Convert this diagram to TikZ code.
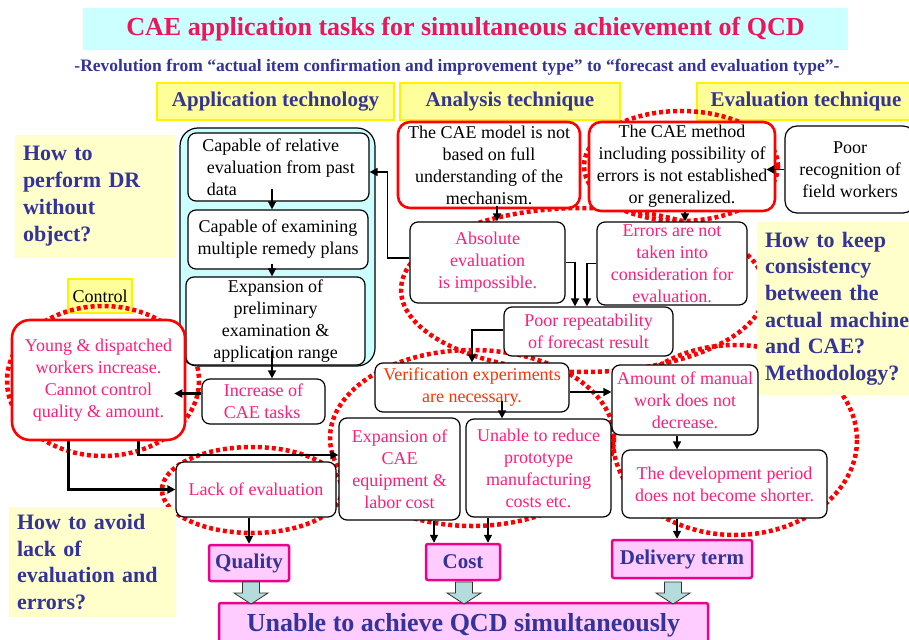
\documentclass[tikz,border=0pt]{standalone}
\usepackage{fontspec}
\setmainfont{Liberation Serif}
\usetikzlibrary{arrows.meta}

\definecolor{titlepink}{HTML}{F0145A}
\definecolor{boxpink}{HTML}{FF1E78}
\definecolor{verifyred}{HTML}{FF3300}
\definecolor{navy}{HTML}{333399}
\definecolor{titlecyan}{HTML}{CCFFFF}
\definecolor{appcyan}{HTML}{CCFFFF}
\definecolor{headyellow}{HTML}{FFFF99}
\definecolor{noteyellow}{HTML}{FFFFCC}
\definecolor{qcdpink}{HTML}{FFCCFF}
\definecolor{arrowteal}{HTML}{B4DCDC}

\newcommand\cellfont{\fontsize{18}{22}\selectfont}
\newcommand\notefont{\fontsize{22}{27}\selectfont\bfseries}

\tikzset{
  plain_box/.style={draw=black, line width=1.2pt, rounded corners=8pt, fill=white,
    align=center, inner xsep=3pt, inner ysep=0pt, font=\cellfont, text=boxpink},
  red_box/.style={plain_box, draw=red, line width=2.6pt, rounded corners=12pt},
  head_box/.style={fill=headyellow, draw=yellow, line width=2pt, text=navy,
    font=\fontsize{21}{25}\selectfont\bfseries, inner sep=0pt},
  note_box/.style={fill=noteyellow, text=navy, font=\notefont, align=left,
    inner xsep=8pt, inner ysep=0pt},
  qcd_box/.style={fill=qcdpink, draw=magenta, line width=2.5pt, rounded corners=2pt,
    text=navy, font=\fontsize{21}{25}\selectfont\bfseries, inner sep=0pt},
  red_ring/.style={draw=red, line width=4.5pt, dash pattern=on 4pt off 3pt},
}

\begin{document}
\begin{tikzpicture}[
  x=1pt, y=-1pt,
  flow/.style={-{Triangle[length=8pt,width=8pt]}, line width=1.5pt},
  flow thick/.style={flow, line width=2.5pt},
  block arrow/.style={fill=arrowteal, draw=black!80, line width=0.8pt},
  ]

  \useasboundingbox (0,0) rectangle (909,639);

  \node[fill=titlecyan, minimum width=765pt, minimum height=42pt, inner sep=0pt,
    text=titlepink, font=\fontsize{26}{30}\selectfont\bfseries]
    (title) at (465.5,29) {CAE application tasks for simultaneous achievement of QCD};
  \node[text=navy, font=\fontsize{17.5}{20}\selectfont\bfseries] (subtitle) at (457,67)
    {-Revolution from “actual item confirmation and improvement type” to “forecast and evaluation type”-};

  \node[head_box, minimum width=237pt, minimum height=37pt] (head_app) at (275.5,101.5) {Application technology};
  \node[head_box, minimum width=220pt, minimum height=37pt] (head_ana) at (510,101.5) {Analysis technique};
  \node[head_box, minimum width=218pt, minimum height=37pt] (head_eva) at (806,101.5) {Evaluation technique};
  \node[head_box, font=\cellfont, text=black, minimum width=64pt, minimum height=34pt] (control) at (100,296) {Control};

  % dotted rings behind the boxes
  \foreach \cx/\cy/\rx/\ry in {103/381/96/75, 252/490/90/43, 472/438/142/88,
                               735/440/122/95, 583/290/182/82, 681/166/97/55}{
    \draw[red_ring] (\cx,\cy) ellipse [x radius=\rx, y radius=\ry];
  }

  \node[note_box, text width=144pt, minimum height=123pt] (note_dr) at (95,196.5)
    {How to\\ perform DR\\ without\\ object?};
  \node[note_box, text width=151pt, minimum height=110pt, font=\fontsize{22}{26.7}\selectfont\bfseries]
    (note_avoid) at (92.5,562) {How to avoid\\ lack of\\ evaluation and\\ errors?};
  \node[note_box, text width=170pt, minimum height=173pt, font=\fontsize{22}{26.6}\selectfont\bfseries]
    (note_keep) at (850,308.5) {How to keep\\ consistency\\ between the\\ actual machine\\ and CAE?\\ Methodology?};

  % application technology column
  \node[plain_box, fill=appcyan, rounded corners=18pt, minimum width=195pt, minimum height=238pt]
    (app_frame) at (277.5,247) {};
  \node[plain_box, text=black, align=left, minimum width=181pt, minimum height=68pt] (app_past) at (278.5,167)
    {Capable of relative\\ \ evaluation from past\\ \ data};
  \node[plain_box, text=black, minimum width=180pt, minimum height=59pt] (app_plans) at (278,239.5)
    {Capable of examining\\ multiple remedy plans};
  \node[plain_box, text=black, minimum width=179pt, minimum height=88pt] (app_range) at (275.5,321)
    {Expansion of\\ preliminary\\ examination \&\\ application range};
  \node[plain_box, align=left, minimum width=123pt, minimum height=45pt] (cae_tasks) at (263.5,401.5)
    {Increase of\\ CAE tasks};

  \node[red_box, rounded corners=18pt, minimum width=173pt, minimum height=120pt] (young) at (98.5,380)
    {Young \& dispatched\\ workers increase.\\ Cannot control\\ quality \& amount.};
  \node[plain_box, minimum width=160pt, minimum height=55pt] (lack) at (256,489.5) {Lack of evaluation};

  % analysis and evaluation technique
  \node[red_box, text=black, minimum width=182pt, minimum height=86pt] (cae_model) at (489,165)
    {The CAE model is not\\ based on full\\ understanding of the\\ mechanism.};
  \node[red_box, text=black, minimum width=186pt, minimum height=89pt] (cae_method) at (682,166.5)
    {The CAE method\\ including possibility of\\ errors is not established\\ or generalized.};
  \node[plain_box, text=black, rounded corners=12pt, minimum width=130pt, minimum height=87pt] (field) at (850,169.5)
    {Poor\\ recognition of\\ field workers};

  \node[plain_box, minimum width=155pt, minimum height=81pt] (absolute) at (487.5,262.5)
    {Absolute\\ evaluation\\ is impossible.};
  \node[plain_box, minimum width=150pt, minimum height=83pt] (errors) at (672,263.5)
    {Errors are not\\ taken into\\ consideration for\\ evaluation.};
  \node[plain_box, minimum width=169pt, minimum height=49pt] (repeat) at (588.5,331.5)
    {Poor repeatability\\ of forecast result};
  \node[plain_box, text=verifyred, minimum width=194pt, minimum height=49pt] (verify) at (472,387.5)
    {Verification experiments\\ are necessary.};
  \node[plain_box, minimum width=146pt, minimum height=70pt] (amount) at (685,400)
    {Amount of manual\\ work does not\\ decrease.};
  \node[plain_box, minimum width=121pt, minimum height=102pt] (expansion) at (399.5,469)
    {Expansion of\\ CAE\\ equipment \&\\ labor cost};
  \node[plain_box, minimum width=145pt, minimum height=98pt] (unable) at (538.5,468)
    {Unable to reduce\\ prototype\\ manufacturing\\ costs etc.};
  \node[plain_box, minimum width=205pt, minimum height=68pt] (period) at (724.5,484)
    {The development period\\ does not become shorter.};

  % Q, C and D
  \node[qcd_box, minimum width=80pt, minimum height=36pt] (quality) at (249,563) {Quality};
  \node[qcd_box, minimum width=74pt, minimum height=36pt] (cost) at (463,562) {Cost};
  \node[qcd_box, minimum width=140pt, minimum height=38pt] (delivery) at (682,559) {Delivery term};
  \node[qcd_box, minimum width=489pt, minimum height=44pt, font=\fontsize{26}{30}\selectfont\bfseries]
    (qcd_all) at (463.5,625) {Unable to achieve QCD simultaneously};

  % connectors
  \coordinate (app_axis) at (272,0);
  \draw[flow] (app_past.south -| app_axis) ++(0,-13) -- (app_plans.north -| app_axis);
  \draw[flow] (app_plans.south -| app_axis) ++(0,-6) -- (app_range.north -| app_axis);
  \draw[flow] (app_range.south -| app_axis) ++(0,-15) -- (cae_tasks.north -| app_axis);
  \draw[flow thick] ([yshift=8pt]cae_tasks.west) -- ([yshift=8pt,xshift=-12pt]cae_tasks.west -| young.east);
  \draw[flow thick] ([xshift=-30pt]young.south) |- (lack.west);
  \draw[flow thick] ([xshift=40pt]young.south) |- ([yshift=14pt]expansion.west);
  \draw[flow] (lack.south -| quality.north) -- (quality.north);

  \draw[flow] ([xshift=8pt]cae_model.south) ++(0,-3) -- ([xshift=8pt]cae_model.south |- absolute.north);
  \draw[flow] ([xshift=3pt]cae_method.south) -- ([xshift=3pt]cae_method.south |- errors.north);
  \draw[flow] (field.west) -- ([xshift=-10pt]field.west -| cae_method.east);
  \draw[flow] (absolute.east) -| ([xshift=-13.5pt]repeat.north);
  \draw[flow] (errors.west) -| ([xshift=-1.5pt]repeat.north);
  \draw[flow] ([yshift=4.5pt]absolute.west) -- ++(-22,0) |- ([yshift=-5pt]app_past.east);
  \draw[flow] ([yshift=1.5pt]repeat.west) -| (verify.north);
  \draw[flow] ([yshift=-4.5pt]verify.east) -- ([yshift=-4.5pt]verify.east -| amount.west);
  \draw[flow] ([xshift=30pt]verify.south) ++(0,-12) -- ([xshift=30pt]verify.south |- unable.north);
  \draw[flow] ([xshift=-29pt]cost.north |- expansion.south) -- ([xshift=-29pt]cost.north);
  \draw[flow] ([xshift=25pt]cost.north |- unable.south) -- ([xshift=25pt]cost.north);
  \draw[flow] ([xshift=-8pt]amount.south) -- ([xshift=-8pt]amount.south |- period.north);
  \draw[flow] ([xshift=-5pt]delivery.north |- period.south) -- ([xshift=-5pt]delivery.north);

  \foreach \x in {251,464,673}{
    \draw[block arrow] (\x-8.5,582) -- (\x+8.5,582) -- (\x+8.5,593) -- (\x+17,593)
      -- (\x,604) -- (\x-17,593) -- (\x-8.5,593) -- cycle;
  }

\end{tikzpicture}
\end{document}
